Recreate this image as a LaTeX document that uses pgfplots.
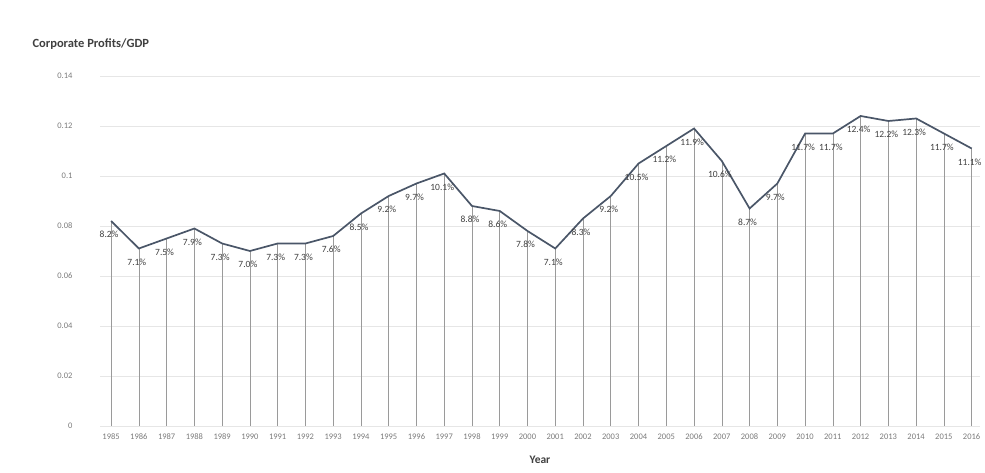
\documentclass[border=0pt]{standalone}
\usepackage{pgfplots}
\pgfplotsset{compat=1.18}
\usepackage{fontspec}
\setmainfont{Carlito}
\definecolor{lineC}{HTML}{4A5668}
\definecolor{dropC}{HTML}{9A9A9A}
\definecolor{gridC}{HTML}{E6E6E6}
\definecolor{tickC}{HTML}{7A7A7A}
\definecolor{lblC}{HTML}{404040}
\begin{document}
\begin{tikzpicture}[x=1pt,y=1pt]
\path (0,0) rectangle (985,473);
\node[anchor=west,font=\fontsize{12.5}{14}\selectfont\bfseries,text=black!75] at (29,429) {Corporate Profits/GDP};
\begin{axis}[
  at={(100pt,47pt)}, anchor=south west,
  scale only axis,
  width=880pt, height=350pt,
  xmin=1984.6, xmax=2016.3,
  ymin=0, ymax=0.14,
  axis line style={draw=none},
  tick style={draw=none},
  ytick={0,0.02,...,0.14},
  yticklabels={0,0.02,0.04,0.06,0.08,0.1,0.12,0.14},
  xtick={1985,...,2016},
  ymajorgrids=true,
  grid style={gridC, line width=0.8pt},
  major tick length=0pt,
  tick label style={font=\fontsize{8.5}{9}\selectfont, text=tickC},
  /pgf/number format/assume math mode=true,
  xticklabel style={/pgf/number format/1000 sep={}, yshift=-4pt},
  yticklabel style={xshift=-24pt},
  xlabel={\bfseries Year},
  xlabel style={font=\fontsize{11.5}{13}\selectfont, text=black!75, yshift=-10pt},
  clip=false,
]
\addplot[ycomb, dropC, line width=0.6pt, mark=none] table {
x y
1985 0.082
1986 0.071
1987 0.075
1988 0.079
1989 0.073
1990 0.070
1991 0.073
1992 0.073
1993 0.076
1994 0.085
1995 0.092
1996 0.097
1997 0.101
1998 0.088
1999 0.086
2000 0.078
2001 0.071
2002 0.083
2003 0.092
2004 0.105
2005 0.112
2006 0.119
2007 0.106
2008 0.087
2009 0.097
2010 0.117
2011 0.117
2012 0.124
2013 0.122
2014 0.123
2015 0.117
2016 0.111
};
\addplot[lineC, line width=1.7pt, mark=none,
  point meta={y*100},
  nodes near coords={\pgfmathprintnumber[fixed,fixed zerofill,precision=1]{\pgfplotspointmeta}\%},
  every node near coord/.style={anchor=north, xshift=-2pt, yshift=-9pt,
     font=\fontsize{9.5}{10}\selectfont, text=lblC, inner sep=0.5pt},
] table {
x y
1985 0.082
1986 0.071
1987 0.075
1988 0.079
1989 0.073
1990 0.070
1991 0.073
1992 0.073
1993 0.076
1994 0.085
1995 0.092
1996 0.097
1997 0.101
1998 0.088
1999 0.086
2000 0.078
2001 0.071
2002 0.083
2003 0.092
2004 0.105
2005 0.112
2006 0.119
2007 0.106
2008 0.087
2009 0.097
2010 0.117
2011 0.117
2012 0.124
2013 0.122
2014 0.123
2015 0.117
2016 0.111
};
\end{axis}
\end{tikzpicture}
\end{document}
